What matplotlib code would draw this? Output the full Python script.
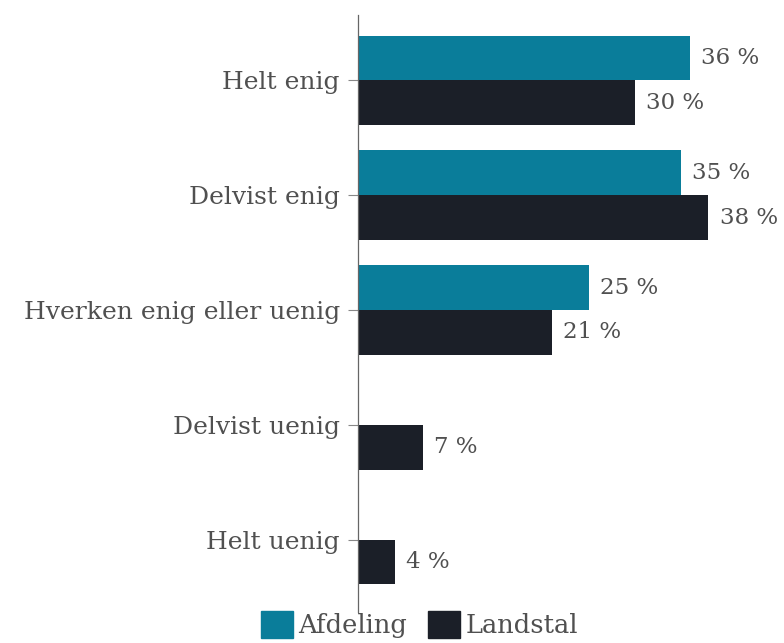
import matplotlib

matplotlib.use("Agg")
import matplotlib.pyplot as plt
import numpy as np
from matplotlib.patches import Patch

categories = [
    "Helt enig",
    "Delvist enig",
    "Hverken enig eller uenig",
    "Delvist uenig",
    "Helt uenig",
]
afdeling = [36, 35, 25, 0, 0]
landstal = [30, 38, 21, 7, 4]
series_names = ["Afdeling", "Landstal"]

TEAL = "#0a7d9a"
DARK = "#1b1f28"
TEXT = "#505050"

plt.rcParams["font.family"] = ["DejaVu Serif", "Liberation Serif"]

fig = plt.figure(figsize=(7.84, 6.43), dpi=100)
ax = fig.add_axes([358 / 784, 31 / 643, 415 / 784, 597 / 643])

y = np.arange(len(categories))
h = 0.39
ax.barh(y - h / 2, afdeling, height=h, color=TEAL)
ax.barh(y + h / 2, landstal, height=h, color=DARK)

for yi, val in zip(y, afdeling):
    if val > 0:
        ax.text(val + 1.2, yi - h / 2, f"{val} %", va="center", ha="left",
                fontsize=16.5, color=TEXT)
for yi, val in zip(y, landstal):
    ax.text(val + 1.2, yi + h / 2, f"{val} %", va="center", ha="left",
            fontsize=16.5, color=TEXT)

ax.set_ylim(len(categories) - 0.37, -0.57)
ax.set_xlim(0, 45)
ax.set_yticks(y)
ax.set_yticklabels(categories, fontsize=18, color=TEXT)
ax.set_xticks([])
for side in ["top", "right", "bottom"]:
    ax.spines[side].set_visible(False)
ax.spines["left"].set_color("#666666")
ax.spines["left"].set_linewidth(0.9)
ax.tick_params(axis="y", length=7, width=0.8, color="#888888", pad=6)

handles = [Patch(color=TEAL), Patch(color=DARK)]
fig.legend(handles, series_names, loc="lower center", ncol=2,
           bbox_to_anchor=(0.535, -0.028), frameon=False, fontsize=18.5,
           handlelength=1.25, handleheight=1.25, handletextpad=0.2,
           columnspacing=0.8, labelcolor=TEXT)

fig.savefig("out.png", dpi=100, facecolor="white")
